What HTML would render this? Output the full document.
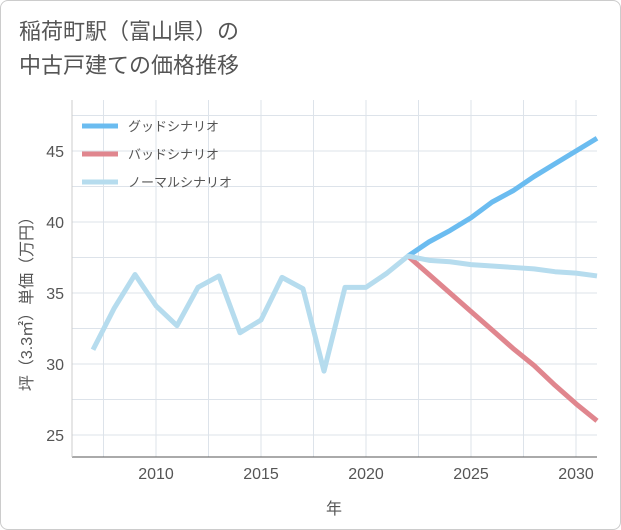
<!DOCTYPE html>
<html><head><meta charset="utf-8"><style>
body{margin:0;background:#fff;font-family:"Liberation Sans","Noto Sans CJK JP",sans-serif;}
#wrap{position:relative;width:619px;height:528px;border:1px solid #ccc;border-radius:8px;overflow:hidden;}
#title{position:absolute;left:18px;top:14px;font-size:22px;line-height:34px;color:#555;}
</style></head><body>
<div id="wrap">
<div id="title">稲荷町駅（富山県）の<br>中古戸建ての価格推移</div>
<svg id="chart" width="621" height="530" style="position:absolute;left:-1px;top:-1px"></svg>
</div>
<script>
const years=[2007,2008,2009,2010,2011,2012,2013,2014,2015,2016,2017,2018,2019,2020,2021,2022,2023,2024,2025,2026,2027,2028,2029,2030,2031];
const normal=[31,33.9,36.3,34.1,32.7,35.4,36.2,32.2,33.1,36.1,35.3,29.5,35.4,35.4,36.4,37.6,37.3,37.2,37.0,36.9,36.8,36.7,36.5,36.4,36.2];
const goodYears=[2022,2023,2024,2025,2026,2027,2028,2029,2030,2031];
const good=[37.6,38.6,39.4,40.3,41.4,42.2,43.2,44.1,45.0,45.9];
const bad=[37.6,36.3,35.0,33.7,32.4,31.1,29.9,28.5,27.2,26.0];
const xTicks=[2010,2015,2020,2025,2030];
const yTicks=[25,30,35,40,45];
const L=72,R=597,T=100,B=457;
const x=v=>L+(v-2006)*(R-L)/25;
const y=v=>151+(45-v)*14.2;
const svg=document.getElementById('chart');const NS='http://www.w3.org/2000/svg';
function mk(t,a,p){const e=document.createElementNS(NS,t);for(const k in a)e.setAttribute(k,a[k]);(p||svg).appendChild(e);return e;}
const gridX=[2007.5,2012.5,2017.5,2022.5,2027.5].concat(xTicks);
gridX.forEach(v=>{const l=mk('line',{x1:x(v),x2:x(v),y1:T,y2:B,stroke:'#dde3ea','stroke-width':1});});
const gridY=[27.5,32.5,37.5,42.5,47.5].concat(yTicks);
gridY.forEach(v=>{if(y(v)<T)return;const l=mk('line',{x1:L,x2:R,y1:y(v),y2:y(v),stroke:'#dde3ea','stroke-width':1});});
const ax=mk('line',{x1:L,x2:R,y1:B,y2:B,stroke:'#555','stroke-width':1});
const ay=mk('line',{x1:L,x2:L,y1:T,y2:B,stroke:'#ccc','stroke-width':1});
xTicks.forEach(v=>{const t=mk('text',{x:x(v),y:479,'text-anchor':'middle','font-size':16,fill:'#555'});t.textContent=v;});
yTicks.forEach(v=>{const t=mk('text',{x:64,y:y(v)+6,'text-anchor':'end','font-size':16,fill:'#555'});t.textContent=v;});
const xt=mk('text',{x:334,y:514,'text-anchor':'middle','font-size':16,fill:'#555'});xt.textContent='年';
const yt=mk('text',{x:0,y:0,transform:'translate(32,300) rotate(-90)','text-anchor':'middle','font-size':16,fill:'#555'});yt.textContent='坪（3.3㎡）単価（万円）';
function line(xs,vs,c,n){const d=xs.map((v,i)=>(i?'L':'M')+x(v)+','+y(vs[i])).join('');const p=mk('path',{d:d,fill:'none',stroke:c,'stroke-width':5,'stroke-linejoin':'round'});}
line(goodYears,bad,'#e0868e','bad-scenario-line');
line(goodYears,good,'#6bbcf0','good-scenario-line');
line(years,normal,'#b6dcee','normal-scenario-line');
const leg=[['グッドシナリオ','#6bbcf0',126],['バッドシナリオ','#e0868e',154],['ノーマルシナリオ','#b6dcee',182]];
leg.forEach(e=>{const g=mk('g',{});mk('line',{x1:82,x2:118,y1:e[2],y2:e[2],stroke:e[1],'stroke-width':5},g);const t=mk('text',{x:128,y:e[2]+5,'font-size':13,fill:'#555'},g);t.textContent=e[0];});
</script>
</body></html>
